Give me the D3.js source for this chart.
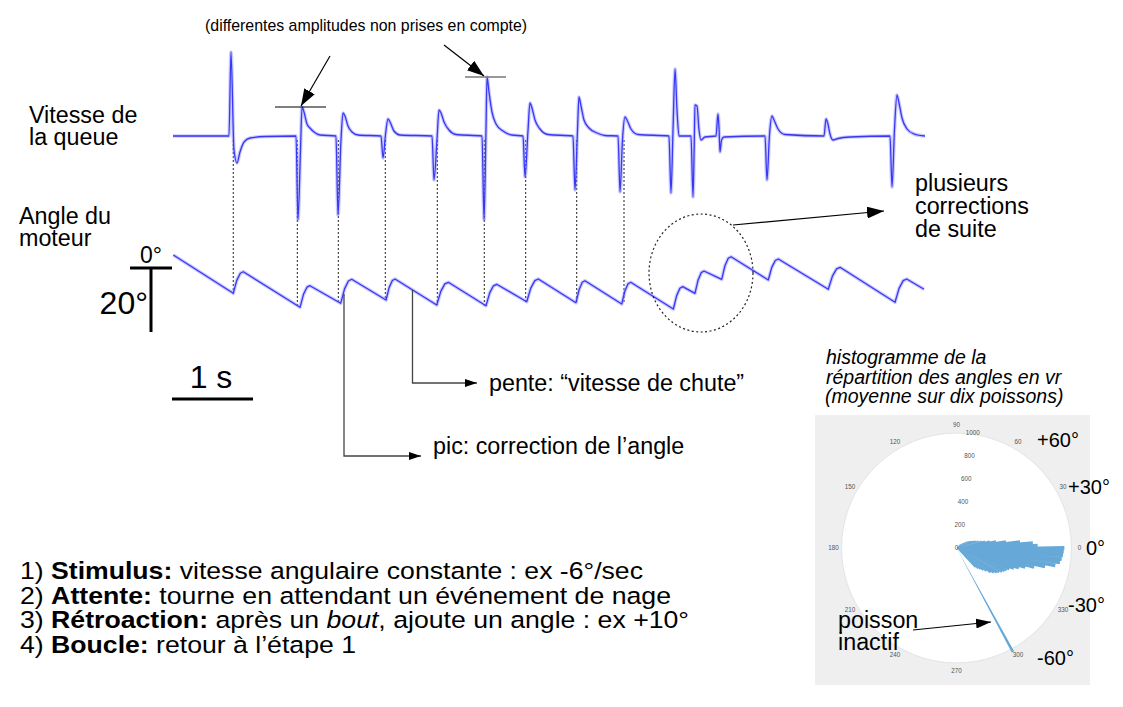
<!DOCTYPE html>
<html><head><meta charset="utf-8">
<script src="https://cdn.jsdelivr.net/npm/d3@7"></script>
<style>
html,body{margin:0;padding:0;background:#fff;}
svg{display:block;font-family:"Liberation Sans",Arial,sans-serif;}
</style></head><body>
<svg id="c" width="1123" height="707"></svg>
<script>
// ---------- DATA ----------
// tail velocity trace: [time (s), velocity (a.u.)]
const tailTrace = [
[0,0],[0.691,0],[0.716,84],[0.753,-14],[0.790,-27],[0.827,-16],[0.877,-6],[0.951,-2],[1.136,-0.5],[1.519,0],
[1.543,-84],[1.574,-14],[1.593,29],[1.617,24],[1.654,12],[1.691,8],[1.741,4],[1.815,1],[2.012,0],
[2.037,-79],[2.074,-4],[2.099,23],[2.123,20],[2.160,10],[2.210,4],[2.284,1],[2.568,0],
[2.593,-22],[2.623,1],[2.654,17],[2.679,14],[2.728,5],[2.802,1],[3.198,0],
[3.222,-44],[3.259,-4],[3.284,26],[3.309,23],[3.346,14],[3.407,6],[3.494,1.5],[3.815,0],
[3.840,-84],[3.864,6],[3.877,59],[3.901,44],[3.938,24],[3.988,12],[4.074,5],[4.185,1],[4.321,0],
[4.346,-41],[4.383,6],[4.407,33],[4.432,28],[4.469,16],[4.531,7],[4.630,1.5],[4.938,0],
[4.963,-54],[4.994,6],[5.012,39],[5.037,30],[5.074,16],[5.136,8],[5.235,3],[5.333,0.5],[5.494,0],
[5.519,-56],[5.549,-4],[5.580,19],[5.605,16],[5.654,7],[5.741,1.5],[6.123,0],
[6.148,-57],[6.173,6],[6.198,67],[6.222,26],[6.247,0],[6.395,0],
[6.420,-61],[6.436,-4],[6.444,31],[6.469,30],[6.494,6],[6.519,-4],[6.568,-1],[6.704,0],
[6.728,22],[6.741,8],[6.753,-16],[6.772,-4],[6.802,-1],[7.309,0],
[7.333,-44],[7.364,1],[7.395,20],[7.420,16],[7.469,7],[7.556,1.5],[8.037,0],
[8.062,17],[8.086,12],[8.111,2],[8.148,-4],[8.210,-2.5],[8.358,-1],[8.852,0],
[8.877,-51],[8.907,6],[8.938,41],[8.963,33],[9.000,18],[9.062,7],[9.148,2],[9.284,0]
];
// motor angle trace: [time (s), angle (deg)] — trough, rise, shoulder, peak per bout
const angleTrace = [
[0.004,4.06],
[0.744,-7.91],[0.787,-3.86],[0.831,-1.63],[0.868,-1.16],
[1.568,-12.28],[1.611,-8.23],[1.654,-6.0],[1.691,-5.53],
[2.070,-11.03],[2.118,-6.53],[2.165,-4.06],[2.206,-3.53],
[2.630,-10.0],[2.669,-6.06],[2.708,-3.9],[2.741,-3.44],
[3.256,-11.56],[3.306,-7.31],[3.356,-4.97],[3.399,-4.47],
[3.864,-11.78],[3.910,-7.77],[3.956,-5.56],[3.996,-5.09],
[4.367,-10.53],[4.417,-6.28],[4.467,-3.94],[4.510,-3.44],
[4.975,-10.84],[5.014,-6.72],[5.053,-4.45],[5.086,-3.97],
[5.540,-11.25],[5.579,-7.18],[5.618,-4.94],[5.651,-4.47],
[6.177,-12.81],[6.218,-8.63],[6.258,-6.33],[6.293,-5.84],
[6.444,-7.91],[6.483,-3.73],[6.522,-1.43],[6.556,-0.94],
[6.774,-3.53],[6.814,0.71],[6.855,3.04],[6.889,3.53],
[7.349,-3.75],[7.392,0.19],[7.436,2.35],[7.473,2.81],
[8.090,-6.66],[8.141,-2.53],[8.192,-0.26],[8.235,0.22],
[8.914,-10.72],[8.964,-6.35],[9.015,-3.95],[9.058,-3.44],
[9.272,-6.66]
];
// bout events linked by dotted lines
const eventTimes  = [0.744,1.535,2.041,2.621,3.263,3.843,4.354,4.984,5.568];
const eventTrough = [-7.91,-12.28,-11.03,-10.0,-11.56,-11.78,-10.53,-10.84,-11.25];
// polar histogram bins: centre angle (deg), counts
const binAngles = [46,44,42,40,38,36,34,32,30,28,26,24,22,20,18,16,14,12,10,8,6,4,2,0,
  -2,-4,-6,-8,-10,-12,-14,-16,-18,-20,-22,-24,-26,-28,-30,-32,-34,-36,-38,-40,-42,-44,-46];
const binCounts = [40,45,50,56,68,80,92,105,118,130,140,150,165,180,198,222,252,292,345,430,550,660,700,930,
  925,920,912,900,865,780,690,615,565,525,490,472,458,442,422,405,385,362,325,298,275,255,232];
const inactiveAngle = -61.5, inactiveCount = 1020;
const polarAngleTicks = [0,30,60,90,120,150,180,210,240,270,300,330];
const polarRadialTicks = [0,200,400,600,800,1000];
const sideLabels = ["+60°","+30°","0°","-30°","-60°"];

// ---------- SETUP ----------
const svg = d3.select("#c");
const defs = svg.append("defs");
function marker(id, w, h){
  defs.append("marker").attr("id",id).attr("viewBox",`0 0 ${w} ${h}`)
    .attr("refX",w).attr("refY",h/2).attr("markerWidth",w).attr("markerHeight",h)
    .attr("markerUnits","userSpaceOnUse").attr("orient","auto")
    .append("path").attr("d",`M0,0L${w},${h/2}L0,${h}Z`).attr("fill","#000");
}
marker("big",17,12); marker("mid",15,10); marker("small",12,8);

const x = d3.scaleLinear().domain([0,1]).range([173,254]);      // 81 px per second
const yTail = d3.scaleLinear().domain([0,100]).range([136,36]);
const yAng = d3.scaleLinear().domain([0,-20]).range([268,332]);

// dotted event lines
svg.append("g").selectAll("line").data(eventTimes).join("line")
  .attr("x1",d=>x(d)).attr("x2",d=>x(d))
  .attr("y1",yTail(-4)).attr("y2",(d,i)=>yAng(eventTrough[i]))
  .attr("stroke","#222").attr("stroke-width",1).attr("stroke-dasharray","2,2");

// traces
const lineTail = d3.line().x(d=>x(d[0])).y(d=>yTail(d[1])).curve(d3.curveMonotoneX);
const lineAng = d3.line().x(d=>x(d[0])).y(d=>yAng(d[1])).curve(d3.curveLinear);
[[tailTrace,lineTail],[angleTrace,lineAng]].forEach(([data,gen])=>{
  svg.append("path").attr("d",gen(data)).attr("fill","none")
    .attr("stroke","#8a8aff").attr("stroke-width",3.6).attr("stroke-opacity",0.45).attr("stroke-linejoin","round");
  svg.append("path").attr("d",gen(data)).attr("fill","none")
    .attr("stroke","#3838f2").attr("stroke-width",1.3).attr("stroke-linejoin","round");
});

// peak annotation bars + arrows
svg.append("line").attr("x1",275).attr("x2",326).attr("y1",yTail(29)).attr("y2",yTail(29)).attr("stroke","#000").attr("stroke-width",1.2);
svg.append("line").attr("x1",465).attr("x2",506).attr("y1",yTail(59)).attr("y2",yTail(59)).attr("stroke","#777").attr("stroke-width",1.6);
svg.append("line").attr("x1",330).attr("y1",56).attr("x2",301).attr("y2",yTail(29)-1).attr("stroke","#000").attr("stroke-width",1.2).attr("marker-end","url(#big)");
svg.append("line").attr("x1",444).attr("y1",45).attr("x2",484).attr("y2",yTail(59)-1).attr("stroke","#000").attr("stroke-width",1.2).attr("marker-end","url(#big)");
svg.append("text").attr("x",205).attr("y",31).attr("font-size",15.9).text("(differentes amplitudes non prises en compte)");

// left labels
const T = (xx,yy,s,txt,extra)=>{const t=svg.append("text").attr("x",xx).attr("y",yy).attr("font-size",s).text(txt); if(extra) extra(t); return t;};
T(29,123,23.3,"Vitesse de"); T(29,145,23.3,"la queue");
T(19,224,23.3,"Angle du"); T(19,246,23.3,"moteur");

// angle scale bar
svg.append("line").attr("x1",130).attr("x2",172).attr("y1",yAng(0)).attr("y2",yAng(0)).attr("stroke","#000").attr("stroke-width",3);
svg.append("line").attr("x1",151).attr("x2",151).attr("y1",yAng(0)).attr("y2",yAng(-20)).attr("stroke","#000").attr("stroke-width",3);
T(151,yAng(0)-5,23,"0°",t=>t.attr("text-anchor","middle"));
T(148,yAng(-10)+14,32,"20°",t=>t.attr("text-anchor","end"));

// time scale bar
svg.append("line").attr("x1",x(0)-1).attr("x2",x(1)-1).attr("y1",399).attr("y2",399).attr("stroke","#000").attr("stroke-width",3);
T(211,388,32,"1 s",t=>t.attr("text-anchor","middle"));

// pic / pente annotations
svg.append("path").attr("d","M344,294V456H421").attr("fill","none").attr("stroke","#444").attr("stroke-width",1.3).attr("marker-end","url(#small)");
svg.append("path").attr("d","M412.5,290V383H477").attr("fill","none").attr("stroke","#444").attr("stroke-width",1.3).attr("marker-end","url(#small)");
T(489,391,23.3,"pente: “vitesse de chute”");
T(433,454,23.3,"pic: correction de l’angle");

// ellipse + arrow
svg.append("ellipse").attr("cx",701).attr("cy",273).attr("rx",52).attr("ry",59)
  .attr("fill","none").attr("stroke","#222").attr("stroke-width",1.2).attr("stroke-dasharray","2,2.5");
svg.append("line").attr("x1",733).attr("y1",225).attr("x2",884).attr("y2",211).attr("stroke","#000").attr("stroke-width",1.2).attr("marker-end","url(#big)");
T(915,191,23.3,"plusieurs"); T(915,214,23.3,"corrections"); T(915,237,23.3,"de suite");

// bottom numbered list
const listLines = [
  [["1) ",""],["Stimulus:","b"],[" vitesse angulaire constante : ex -6°/sec",""]],
  [["2) ",""],["Attente:","b"],[" tourne en attendant un événement de nage",""]],
  [["3) ",""],["Rétroaction:","b"],[" après un ",""],["bout","i"],[", ajoute un angle : ex +10°",""]],
  [["4) ",""],["Boucle:","b"],[" retour à l’étape 1",""]]
];
const listWidths = [623,651,669,336];
listLines.forEach((parts,i)=>{
  const t = svg.append("text").attr("x",20).attr("y",579+i*24.5).attr("font-size",24.5)
    .attr("textLength",listWidths[i]).attr("lengthAdjust","spacingAndGlyphs");
  parts.forEach(([s,f])=>{
    const ts=t.append("tspan").text(s);
    if(f==="b") ts.attr("font-weight","bold");
    if(f==="i") ts.attr("font-style","italic");
  });
});

// ---------- POLAR HISTOGRAM ----------
const cx=956.5, cy=548, R=115;
svg.append("text").attr("x",826).attr("y",364).attr("font-size",19.5).attr("font-style","italic").text("histogramme de la");
svg.append("text").attr("x",826).attr("y",383.5).attr("font-size",19.5).attr("font-style","italic").text("répartition des angles en vr");
svg.append("text").attr("x",825).attr("y",403).attr("font-size",19.5).attr("font-style","italic").text("(moyenne sur dix poissons)");
svg.append("rect").attr("x",815).attr("y",415).attr("width",275).attr("height",270).attr("fill","#efefef");
const pg = svg.append("g").attr("transform",`translate(${cx},${cy})`);
pg.append("circle").attr("r",R).attr("fill","#fff").attr("stroke","#e4e4e4").attr("stroke-width",1);
const r = d3.scaleLinear().domain([0,1000]).range([0,116]);
const rad = a=>a*Math.PI/180;
const bins = binAngles.map((a,i)=>({a, c:binCounts[i], w:2}));
bins.push({a:inactiveAngle, c:inactiveCount, w:1.3});
const arc = d3.arc().innerRadius(0).outerRadius(d=>r(d.c))
  .startAngle(d=>rad(90-(d.a+d.w/2))).endAngle(d=>rad(90-(d.a-d.w/2)));
pg.append("path").attr("d",bins.map(b=>arc(b)).join(""))
  .attr("fill","#66a8d7").attr("fill-rule","nonzero");
pg.selectAll("text.at").data(polarAngleTicks).join("text").attr("class","at")
  .attr("x",d=>123*Math.cos(rad(d))).attr("y",d=>-123*Math.sin(rad(d)))
  .attr("text-anchor","middle").attr("dy","0.35em").attr("font-size",6.3).attr("fill","#555").text(d=>d);
pg.selectAll("text.rt").data(polarRadialTicks).join("text").attr("class","rt")
  .attr("x",d=>r(d)*Math.cos(rad(82))).attr("y",d=>-r(d)*Math.sin(rad(82)))
  .attr("text-anchor","middle").attr("dy","0.35em").attr("font-size",6.3).attr("fill","#555").text(d=>d);
const sidePos = [[1037,447],[1068,494],[1086,555],[1068,612],[1037,665]];
sideLabels.forEach((s,i)=>T(sidePos[i][0],sidePos[i][1],20,s));
T(838,628,23.3,"poisson"); T(838,650,23.3,"inactif");
svg.append("line").attr("x1",913).attr("y1",630).attr("x2",991).attr("y2",622).attr("stroke","#000").attr("stroke-width",1.2).attr("marker-end","url(#mid)");
</script>
</body></html>
